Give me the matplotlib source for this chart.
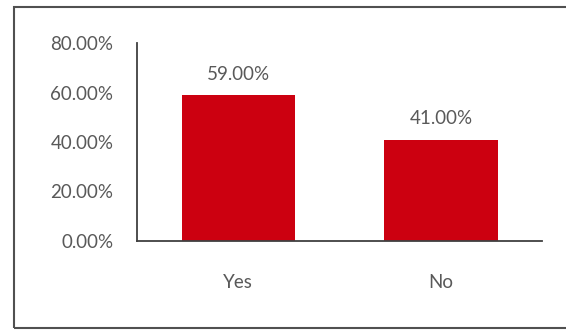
import matplotlib.pyplot as plt
from matplotlib.patches import Rectangle
from matplotlib.ticker import FuncFormatter

categories = ["Yes", "No"]
values = [0.59, 0.41]
yticks = [0.0, 0.2, 0.4, 0.6, 0.8]

text_color = "#595959"
bar_color = "#CC0010"

plt.rcParams['font.family'] = ['Lato', 'DejaVu Sans']

fig = plt.figure(figsize=(5.66, 3.31), dpi=100)
ax = fig.add_axes([0.242, 0.272, 0.716, 0.598])

x = range(len(categories))
bars = ax.bar(x, values, width=0.56, color=bar_color)
for b, v in zip(bars, values):
    ax.annotate(f"{v * 100:.2f}%", (b.get_x() + b.get_width() / 2, v),
                xytext=(0, 15), textcoords="offset points",
                ha="center", va="center", fontsize=13.5, color=text_color)

ax.set_xlim(-0.5, 1.5)
ax.set_ylim(0, 0.8)
ax.set_xticks(list(x))
ax.set_xticklabels(categories)
ax.set_yticks(yticks)
ax.yaxis.set_major_formatter(FuncFormatter(lambda v, p: f"{v * 100:.2f}%"))
ax.tick_params(axis='both', length=0, labelsize=13.5, labelcolor=text_color)
ax.tick_params(axis='y', pad=17)
ax.tick_params(axis='x', pad=24)

for s in ["top", "right"]:
    ax.spines[s].set_visible(False)
for s in ["left", "bottom"]:
    ax.spines[s].set_color("#404040")
    ax.spines[s].set_linewidth(1.3)

# outer chart border (runs off the right side of the image)
fig.patches.append(Rectangle((14 / 566, 1 - 328 / 331), 0.99, (328 - 7) / 331,
                             transform=fig.transFigure, fill=False,
                             edgecolor="#505050", linewidth=1.5, clip_on=False))

fig.savefig("out.png", dpi=100)
